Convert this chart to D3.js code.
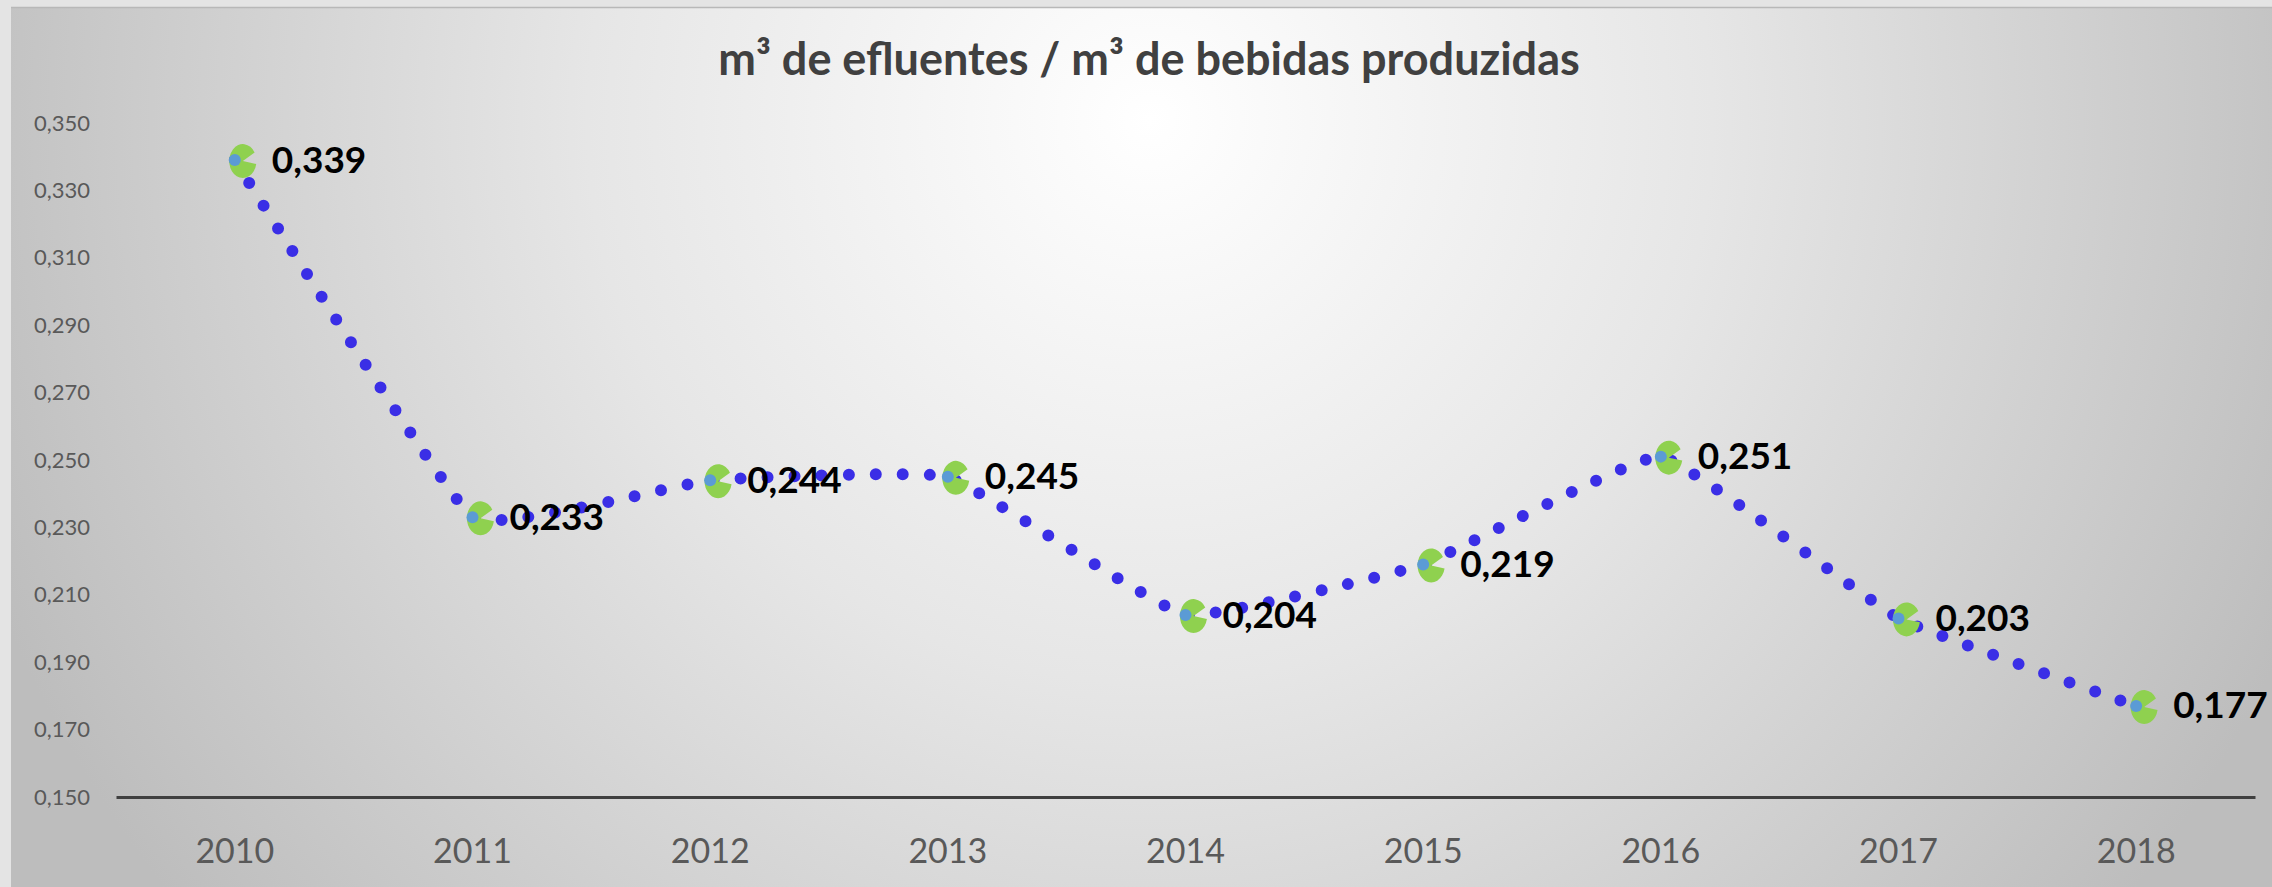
<!DOCTYPE html>
<html>
<head>
<meta charset="utf-8">
<script src="https://cdn.jsdelivr.net/npm/d3@7"></script>
<style>
  html, body { margin: 0; padding: 0; background: #e4e4e4; }
  svg { display: block; }
</style>
</head>
<body>
<svg id="chart"></svg>
<script>
// data
const years = ["2010", "2011", "2012", "2013", "2014", "2015", "2016", "2017", "2018"];
const values = [0.339, 0.233, 0.244, 0.245, 0.204, 0.219, 0.251, 0.203, 0.177];
const yTicks = [0.15, 0.17, 0.19, 0.21, 0.23, 0.25, 0.27, 0.29, 0.31, 0.33, 0.35];
const title = "m³ de efluentes / m³ de bebidas produzidas";

const width = 2272;
const height = 887;

const svg = d3.select("#chart")
    .attr("width", width)
    .attr("height", height);

// portuguese number format: 0,339
const ptBR = d3.formatLocale({ decimal: ",", thousands: ".", grouping: [3], currency: ["R$", ""] });
const fmt = ptBR.format(".3f");

// background gradient of the chart area
const defs = svg.append("defs");
const grad = defs.append("radialGradient")
    .attr("id", "bg")
    .attr("gradientUnits", "userSpaceOnUse")
    .attr("cx", 1150).attr("cy", 120)
    .attr("r", 1250);
grad.append("stop").attr("offset", "0").attr("stop-color", "#ffffff");
grad.append("stop").attr("offset", "0.45").attr("stop-color", "#e6e6e6");
grad.append("stop").attr("offset", "1").attr("stop-color", "#bdbdbd");

svg.append("rect")
    .attr("x", 11).attr("y", 7)
    .attr("width", width - 11).attr("height", height - 7)
    .attr("fill", "url(#bg)");
svg.append("line")
    .attr("x1", 11).attr("x2", width)
    .attr("y1", 7.5).attr("y2", 7.5)
    .attr("stroke", "#b8b8b8").attr("stroke-width", 1.5);

// scales
const x = d3.scaleBand()
    .domain(years)
    .range([116, 2255])
    .paddingInner(0).paddingOuter(0);

const y = d3.scaleLinear()
    .domain([0.15, 0.35])
    .range([797, 123]);

// title
svg.append("text")
    .attr("x", 1149)
    .attr("y", 75)
    .attr("text-anchor", "middle")
    .attr("font-family", "Lato, 'Open Sans', sans-serif")
    .attr("font-weight", "bold")
    .attr("font-size", 45)
    .attr("fill", "#404040")
    .text(title);

// y axis (labels only)
const yAxis = svg.append("g")
    .attr("transform", "translate(100,0)")
    .call(d3.axisLeft(y).tickValues(yTicks).tickSize(0).tickPadding(10).tickFormat(fmt));
yAxis.select(".domain").remove();
yAxis.selectAll("text")
    .attr("font-family", "Lato, 'Open Sans', sans-serif")
    .attr("font-size", 22)
    .attr("fill", "#595959");

// x axis
const xAxis = svg.append("g")
    .attr("transform", `translate(0,${y(0.15)})`)
    .call(d3.axisBottom(x).tickSize(0).tickSizeOuter(0).tickPadding(42));
xAxis.select(".domain")
    .attr("stroke", "#404040")
    .attr("stroke-width", 3);
xAxis.selectAll("text")
    .attr("font-family", "Lato, 'Open Sans', sans-serif")
    .attr("font-size", 34)
    .attr("fill", "#595959");

const cx = d => x(d.year) + x.bandwidth() / 2;
const points = years.map((yr, i) => ({ year: yr, value: values[i] }));

// dotted, lightly smoothed line
const line = d3.line()
    .x(cx)
    .y(d => y(d.value))
    .curve(d3.curveCardinal.tension(0.7));

svg.append("path")
    .datum(points)
    .attr("d", line)
    .attr("fill", "none")
    .attr("stroke", "#3a2ee6")
    .attr("stroke-width", 12)
    .attr("stroke-linecap", "round")
    .attr("stroke-dasharray", "0 27");

// markers: green notched disc with a small blue dot
const arc = d3.arc()
    .innerRadius(0)
    .outerRadius(17)
    .startAngle(Math.PI * 100 / 180)
    .endAngle(Math.PI * 420 / 180);

const marks = svg.selectAll(".marker")
    .data(points)
    .enter()
    .append("g")
    .attr("class", "marker")
    .attr("transform", d => `translate(${cx(d)},${y(d.value)})`);

marks.append("path")
    .attr("d", arc())
    .attr("transform", "translate(8,1) scale(0.8,1)")
    .attr("fill", "#8fd14f");

marks.append("circle")
    .attr("r", 6)
    .attr("fill", "#5b9bd5");

// data labels
svg.selectAll(".dlabel")
    .data(points)
    .enter()
    .append("text")
    .attr("class", "dlabel")
    .attr("x", d => cx(d) + 37)
    .attr("y", d => y(d.value) + 3)
    .attr("dominant-baseline", "middle")
    .attr("font-family", "Lato, 'Open Sans', sans-serif")
    .attr("font-weight", "bold")
    .attr("font-size", 37)
    .attr("fill", "#000000")
    .text(d => fmt(d.value));
</script>
</body>
</html>
